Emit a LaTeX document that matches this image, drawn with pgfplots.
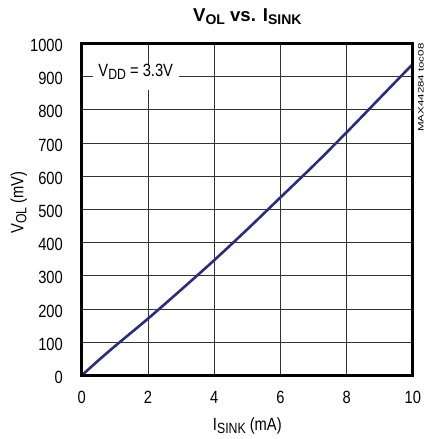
\documentclass[border=0pt]{standalone}
\usepackage{fontspec}
\setmainfont{Liberation Sans}[FakeStretch=0.83]
\newfontfamily\titlefont{Liberation Sans}
\usepackage{graphicx}
\usepackage{pgfplots}
\pgfplotsset{compat=1.18}
\definecolor{curve}{RGB}{42,44,125}
\newcommand{\sub}[1]{\raisebox{-3pt}{\fontsize{14.8}{16}\selectfont #1}}
\newcommand{\tsub}[1]{\raisebox{-2.5pt}{\fontsize{14}{16}\selectfont #1}}
\newcommand{\lblfont}{\fontsize{17.7}{20}\selectfont}

\begin{document}
\begin{tikzpicture}
\begin{axis}[
    scale only axis, width=331pt, height=332pt,
    xmin=0, xmax=10, ymin=0, ymax=1000,
    xtick={0,2,...,10}, ytick={0,100,...,1000},
    scaled ticks=false,
    /pgf/number format/1000 sep={},
    /pgf/number format/assume math mode=true,
    grid=major,
    major grid style={black!80, line width=0.8pt},
    major tick length=0pt,
    tick label style={font=\lblfont},
    xticklabel style={anchor=north, inner sep=0pt, yshift=-15.2pt},
    yticklabel style={anchor=east, inner sep=0pt, xshift=-18.7pt, yshift=-2pt},
    every axis title/.style={at={(rel axis cs:0.5,1)}, anchor=base, yshift=21.6pt,
        font=\titlefont\bfseries\fontsize{18.6}{20}\selectfont},
    every axis x label/.style={at={(rel axis cs:0.5,0)}, anchor=base, yshift=-55.5pt, font=\lblfont},
    every axis y label/.style={at={(rel axis cs:0,0.5)}, xshift=-58.4pt, yshift=7pt,
        rotate=90, anchor=base, font=\lblfont},
    title={V\tsub{OL} vs. I\tsub{SINK}},
    xlabel={I\sub{SINK} (mA)},
    ylabel={V\sub{OL} (mV)},
    clip mode=individual,
]
\addplot[curve, line width=2.6pt, smooth] coordinates {
    (0,0) (0.5,45) (1,88) (2,171) (3,258) (4,347)
    (5,440) (6,536) (7,632) (8,732) (9,835) (10,938)
};
\node[anchor=base west, fill=white, inner xsep=5.6pt, inner ysep=0.5pt,
      text height=12.5pt, text depth=12.5pt, font=\lblfont]
    at (axis cs:0.33,900) {V\sub{DD} = 3.3V};
\node[xshift=8pt, rotate=90, anchor=east, inner sep=0pt]
    at (rel axis cs:1,1) {\resizebox{88pt}{5.5pt}{MAX44284 toc08}};
\coordinate (sw) at (rel axis cs:0,0);
\coordinate (ne) at (rel axis cs:1,1);
\end{axis}
% heavy frame as in the datasheet plot
\draw[line width=2.8pt, black] (sw) rectangle (ne);
\path ([shift={(-81.7pt,-63.5pt)}]sw) rectangle ([shift={(11.3pt,43.3pt)}]ne);
\end{tikzpicture}
\end{document}
